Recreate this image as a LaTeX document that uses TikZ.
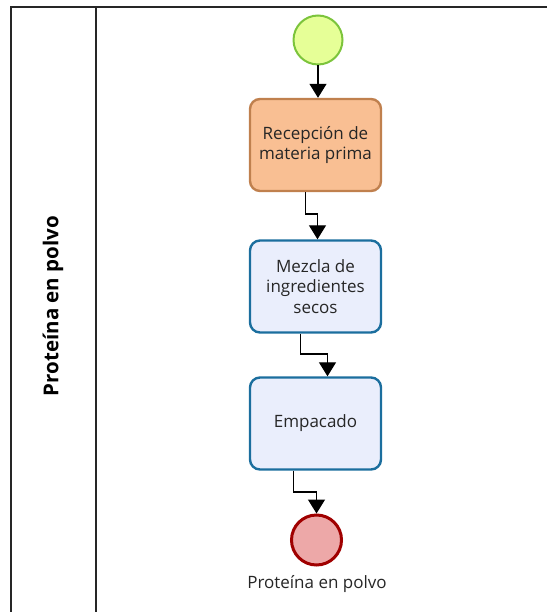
\documentclass[tikz,border=0pt]{standalone}
\usepackage{fontspec}
\setmainfont{Open Sans}
\usetikzlibrary{arrows.meta}
\definecolor{startfill}{HTML}{E6FF97}
\definecolor{startline}{HTML}{7CC43C}
\definecolor{endfill}{HTML}{EDA8A8}
\definecolor{endline}{HTML}{A00000}
\definecolor{taskfill}{HTML}{EAEEFC}
\definecolor{taskline}{HTML}{1B6E9E}
\definecolor{hotfill}{HTML}{F9BF93}
\definecolor{hotline}{HTML}{C0804E}
\tikzset{
  x=1pt, y=-1pt,
  pool/.style={draw=black!85, line width=1.4pt},
  label text/.style={font=\fontsize{17}{20.5}\selectfont, text=black!85},
  task/.style={draw=taskline, fill=taskfill, line width=2.4pt, rounded corners=10pt,
    minimum width=131pt, minimum height=92pt, align=center, label text},
  hottask/.style={task, draw=hotline, fill=hotfill},
  startev/.style={circle, draw=startline, fill=startfill, line width=2pt, minimum size=49pt, inner sep=0pt},
  endev/.style={circle, draw=endline, fill=endfill, line width=3pt, minimum size=50pt, inner sep=0pt},
  flow/.style={draw=black, line width=1.3pt, -{Triangle[width=17pt,length=14pt]}},
}
\begin{document}
\begin{tikzpicture}
\useasboundingbox (0,0) rectangle (546,612);
% pool and lane header
\draw[pool] (11,625) -- (11,7) -- (560,7);
\draw[pool] (96,7) -- (96,625);
\node[rotate=90, font=\bfseries\fontsize{20.5}{24}\selectfont] (lane) at (53,306) {Proteína en polvo};
% events and activities
\node[startev] (start) at (318,40) {};
\node[hottask] (t1) at (315.5,145) {Recepción de\\materia prima};
\node[task] (t2) at (315.5,286.5) {Mezcla de\\ingredientes\\secos};
\node[task] (t3) at (315.5,423.5) {Empacado};
\node[endev] (end) at (316.5,540) {};
\node[label text] (endlbl) at (317,584) {Proteína en polvo};
% sequence flows
\coordinate (a1) at (305.5,214);
\coordinate (a2) at (317.5,214);
\coordinate (b1) at (300.5,354);
\coordinate (b2) at (327.5,354);
\coordinate (c1) at (293.5,492);
\coordinate (c2) at (316.5,492);
\draw[flow] (start.south) -- (start.south |- t1.north);
\draw[flow] (a1 |- t1.south) -- (a1) -- (a2) -- (a2 |- t2.north);
\draw[flow] (b1 |- t2.south) -- (b1) -- (b2) -- (b2 |- t3.north);
\draw[flow] (c1 |- t3.south) -- (c1) -- (c2) -- (end.north);
\end{tikzpicture}
\end{document}
